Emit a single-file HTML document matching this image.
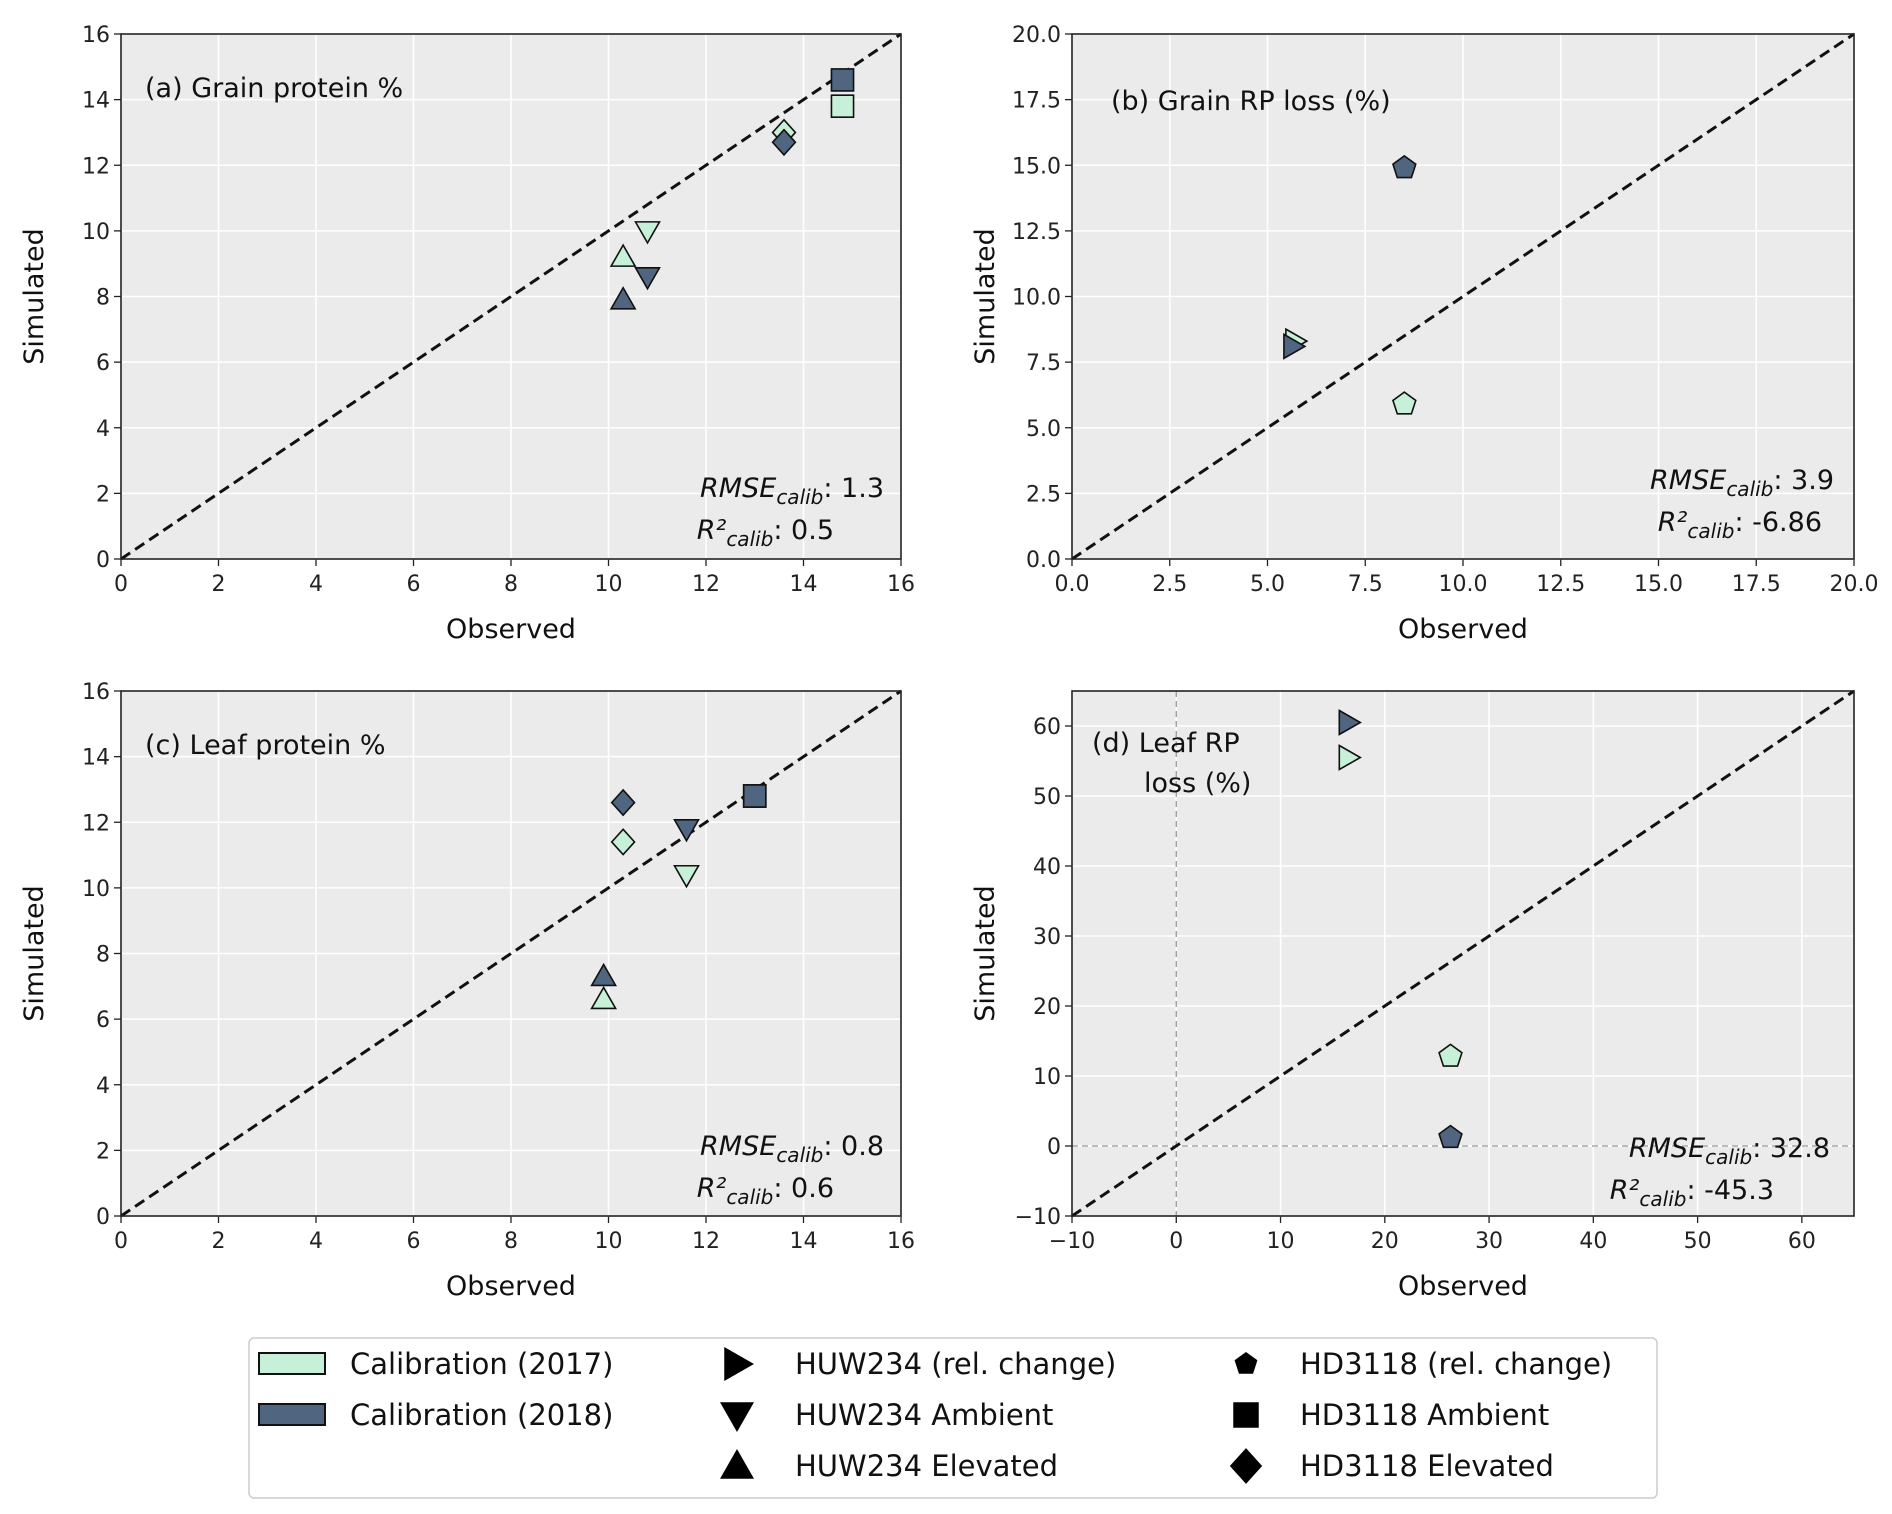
<!DOCTYPE html>
<html><head><meta charset="utf-8"><style>
html,body{margin:0;padding:0;background:#fff;}
svg{display:block;font-family:"DejaVu Sans","Liberation Sans",sans-serif;}
</style></head><body>
<svg id="fig" width="1892" height="1514" viewBox="0 0 1892 1514"></svg>
<script>
// ---- data ----
const aMarkers = ['sq','sq','di','di','dn','dn','up','up'];
const aYear    = [2017,2018,2017,2018,2017,2018,2017,2018];
const aObs     = [14.8,14.8,13.6,13.6,10.8,10.8,10.3,10.3];
const aSim     = [13.8,14.6,13.0,12.7,10.0,8.6,9.2,7.9];

const bMarkers = ['pe','pe','rt','rt'];
const bYear    = [2017,2018,2017,2018];
const bObs     = [8.5,8.5,5.7,5.65];
const bSim     = [5.9,14.9,8.3,8.1];

const cMarkers = ['sq','sq','di','di','dn','dn','up','up'];
const cYear    = [2017,2018,2017,2018,2017,2018,2017,2018];
const cObs     = [13.0,13.0,10.3,10.3,11.6,11.6,9.9,9.9];
const cSim     = [12.8,12.8,11.4,12.6,10.4,11.8,6.6,7.3];

const dMarkers = ['rt','rt','pe','pe'];
const dYear    = [2017,2018,2017,2018];
const dObs     = [16.5,16.5,26.3,26.3];
const dSim     = [55.5,60.5,12.8,1.2];

const ticks16 = [0,2,4,6,8,10,12,14,16];
const ticks20 = [0,2.5,5,7.5,10,12.5,15,17.5,20];
const ticks20Labels = ['0.0','2.5','5.0','7.5','10.0','12.5','15.0','17.5','20.0'];
const ticksD = [-10,0,10,20,30,40,50,60];
const ticksDLabels = ['\u221210','0','10','20','30','40','50','60'];
const ticksDY = ['\u221210','0','10','20','30','40','50','60'];

const C17 = '#c7f0d8', C18 = '#4f6580';
const NS = 'http://www.w3.org/2000/svg';
const svg = document.getElementById('fig');
function el(tag, attrs, parent){ const e=document.createElementNS(NS,tag); for(const k in attrs) e.setAttribute(k,attrs[k]); (parent||svg).appendChild(e); return e; }

function markerPath(t, cx, cy, r){
  if(t==='sq') return `M${cx-r*0.85},${cy-r*0.85}h${r*1.7}v${r*1.7}h${-r*1.7}Z`;
  if(t==='di') return `M${cx},${cy-r*1.05}L${cx+r*0.95},${cy}L${cx},${cy+r*1.05}L${cx-r*0.95},${cy}Z`;
  if(t==='dn') return `M${cx-r},${cy-r*0.75}L${cx+r},${cy-r*0.75}L${cx},${cy+r}Z`;
  if(t==='up') return `M${cx-r},${cy+r*0.75}L${cx+r},${cy+r*0.75}L${cx},${cy-r}Z`;
  if(t==='rt') return `M${cx-r*0.75},${cy-r}L${cx+r},${cy}L${cx-r*0.75},${cy+r}Z`;
  if(t==='pe'){ let p=''; for(let i=0;i<5;i++){const a=-Math.PI/2+i*2*Math.PI/5; p+=(i?'L':'M')+(cx+r*Math.cos(a))+','+(cy+r*Math.sin(a));} return p+'Z'; }
}

function panel(opt){
  const {x0,x1,y0,y1,xmin,xmax,ymin,ymax,xt,xtl,yt,ytl,name} = opt;
  const g = el('g',{});
  
  
  const sx = v => x0 + (v-xmin)/(xmax-xmin)*(x1-x0);
  const sy = v => y1 - (v-ymin)/(ymax-ymin)*(y1-y0);
  el('rect',{x:x0,y:y0,width:x1-x0,height:y1-y0,fill:'#ebebeb'},g);
  xt.forEach((v,i)=>{
    el('line',{x1:sx(v),x2:sx(v),y1:y0,y2:y1,stroke:'#fff','stroke-width':1.6},g);
    el('line',{x1:sx(v),x2:sx(v),y1:y1,y2:y1+7,stroke:'#222','stroke-width':1.3},g);
    const t=el('text',{x:sx(v),y:y1+32,'text-anchor':'middle','font-size':22,fill:'#222'},g); t.textContent=xtl[i];
    
    
  });
  yt.forEach((v,i)=>{
    el('line',{x1:x0,x2:x1,y1:sy(v),y2:sy(v),stroke:'#fff','stroke-width':1.6},g);
    el('line',{x1:x0-7,x2:x0,y1:sy(v),y2:sy(v),stroke:'#222','stroke-width':1.3},g);
    const t=el('text',{x:x0-11,y:sy(v)+8,'text-anchor':'end','font-size':22,fill:'#222'},g); t.textContent=ytl[i];
    
    
  });
  if(opt.zeroLines){
    el('line',{x1:sx(0),x2:sx(0),y1:y0,y2:y1,stroke:'#999','stroke-width':1.3,'stroke-dasharray':'6,4'},g);
    el('line',{x1:x0,x2:x1,y1:sy(0),y2:sy(0),stroke:'#999','stroke-width':1.3,'stroke-dasharray':'6,4'},g);
  }
  const lo=Math.max(xmin,ymin), hi=Math.min(xmax,ymax);
  const dl=el('line',{x1:sx(lo),y1:sy(lo),x2:sx(hi),y2:sy(hi),stroke:'#111','stroke-width':3,'stroke-dasharray':'11,6'},g);
  
  
  opt.obs.forEach((o,i)=>{
    const p=el('path',{d:markerPath(opt.mk[i],sx(o),sy(opt.sim[i]),opt.mk[i]==='sq'?13:12),fill:opt.yr[i]===2017?C17:C18,stroke:'#111','stroke-width':1.6},g);
    
    
  });
  el('rect',{x:x0,y:y0,width:x1-x0,height:y1-y0,fill:'none',stroke:'#222','stroke-width':1.6},g);
  const xl=el('text',{x:(x0+x1)/2,y:y1+79,'text-anchor':'middle','font-size':27,fill:'#111'},g); xl.textContent='Observed';
  
  
  const yl=el('text',{x:0,y:0,'text-anchor':'middle','font-size':27,fill:'#111',transform:`translate(${x0-78},${(y0+y1)/2}) rotate(-90)`},g); yl.textContent='Simulated';
  
  
  opt.title.forEach((tl,i)=>{
    const t=el('text',{x:tl[0],y:tl[1],'font-size':27,fill:'#111'},g); t.textContent=tl[2];
    
    
  });
  const r1=el('text',{x:opt.statX,y:opt.statY,'text-anchor':'end','font-size':27,fill:'#111'},g);
  r1.innerHTML=`<tspan font-style="italic">RMSE</tspan><tspan font-style="italic" font-size="20" dy="7">calib</tspan><tspan dy="-7">: ${opt.rmse}</tspan>`;
  
  
  const r2=el('text',{x:opt.statX2,y:opt.statY+42,'text-anchor':'end','font-size':27,fill:'#111'},g);
  r2.innerHTML=`<tspan font-style="italic">R²</tspan><tspan font-style="italic" font-size="20" dy="7">calib</tspan><tspan dy="-7">: ${opt.r2}</tspan>`;
  
  
}
const s16 = ticks16.map(String);
panel({name:'panel-a-grain-protein',x0:121,x1:901,y0:34,y1:559,xmin:0,xmax:16,ymin:0,ymax:16,xt:ticks16,xtl:s16,yt:ticks16,ytl:s16,
  mk:aMarkers,yr:aYear,obs:aObs,sim:aSim,title:[[145,97,'(a) Grain protein %']],statX:884,statX2:834,statY:497,rmse:'1.3',r2:'0.5'});
panel({name:'panel-b-grain-rp-loss',x0:1072,x1:1854,y0:34,y1:559,xmin:0,xmax:20,ymin:0,ymax:20,xt:ticks20,xtl:ticks20Labels,yt:ticks20,ytl:ticks20Labels,
  mk:bMarkers,yr:bYear,obs:bObs,sim:bSim,title:[[1111,110,'(b) Grain RP loss (%)']],statX:1834,statX2:1822,statY:489,rmse:'3.9',r2:'-6.86'});
panel({name:'panel-c-leaf-protein',x0:121,x1:901,y0:691,y1:1216,xmin:0,xmax:16,ymin:0,ymax:16,xt:ticks16,xtl:s16,yt:ticks16,ytl:s16,
  mk:cMarkers,yr:cYear,obs:cObs,sim:cSim,title:[[145,754,'(c) Leaf protein %']],statX:884,statX2:834,statY:1155,rmse:'0.8',r2:'0.6'});
panel({name:'panel-d-leaf-rp-loss',x0:1072,x1:1854,y0:691,y1:1216,xmin:-10,xmax:65,ymin:-10,ymax:65,xt:ticksD,xtl:ticksDLabels,yt:ticksD,ytl:ticksDY,zeroLines:true,
  mk:dMarkers,yr:dYear,obs:dObs,sim:dSim,title:[[1092,752,'(d) Leaf RP'],[1144,792,'loss (%)']],statX:1830,statX2:1774,statY:1157,rmse:'32.8',r2:'-45.3'});

// ---- legend ----
const lg=el('g',{});


el('rect',{x:249,y:1338,width:1408,height:160,rx:5,fill:'#fff',stroke:'#ccc','stroke-width':1.5},lg);
const rowsY=[1364,1415,1466];
[[C17,'Calibration (2017)'],[C18,'Calibration (2018)']].forEach((it,i)=>{
  el('rect',{x:259,y:rowsY[i]-11,width:66,height:21,fill:it[0],stroke:'#111','stroke-width':2},lg);
  const t=el('text',{x:350,y:rowsY[i]+10,'font-size':29,fill:'#111'},lg); t.textContent=it[1];
  
  
});
[['rt','HUW234 (rel. change)'],['dn','HUW234 Ambient'],['up','HUW234 Elevated']].forEach((it,i)=>{
  el('path',{d:markerPath(it[0],737,rowsY[i],17),fill:'#000'},lg);
  const t=el('text',{x:795,y:rowsY[i]+10,'font-size':29,fill:'#111'},lg); t.textContent=it[1];
  
  
});
[['pe','HD3118 (rel. change)',12],['sq','HD3118 Ambient',15],['di','HD3118 Elevated',17]].forEach((it,i)=>{
  el('path',{d:markerPath(it[0],1246,rowsY[i],it[2]),fill:'#000'},lg);
  const t=el('text',{x:1300,y:rowsY[i]+10,'font-size':29,fill:'#111'},lg); t.textContent=it[1];
  
  
});
</script>
</body></html>
